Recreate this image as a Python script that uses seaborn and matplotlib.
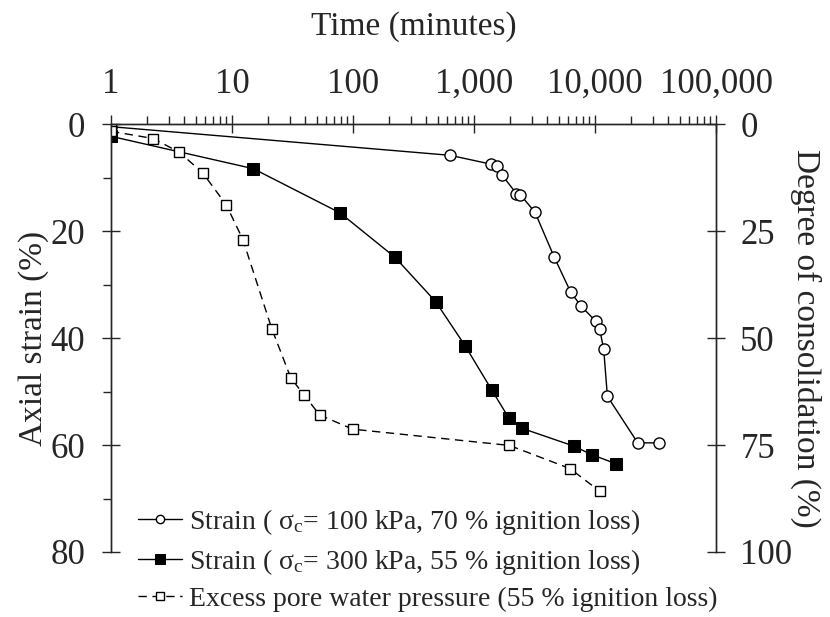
import numpy as np
import pandas as pd
import matplotlib
matplotlib.use("Agg")
import matplotlib.pyplot as plt
import matplotlib.ticker as mticker
import seaborn as sns

# values
t_100 = [1, 633, 1380, 1560, 1714, 2237, 2414, 3193, 4585, 6290, 7710, 10190, 10940, 11800, 12660, 22550, 33900]
strain_100 = [0.5, 5.85, 7.5, 7.9, 9.6, 13.0, 13.2, 16.5, 24.8, 31.4, 34.1, 36.9, 38.4, 42.1, 50.9, 59.6, 59.6]

t_300 = [1, 15, 78, 222, 482, 847, 1409, 1935, 2507, 6670, 9390, 14920]
strain_300 = [2.3, 8.35, 16.6, 24.9, 33.2, 41.5, 49.8, 54.9, 56.9, 60.2, 61.8, 63.5]

t_pore = [1, 2.24, 3.67, 5.72, 8.97, 12.3, 21.3, 30.6, 39.6, 53.1, 99.5, 1960, 6210, 10930]
consol_pore = [1.7, 3.4, 6.6, 11.4, 18.9, 27.0, 47.8, 59.3, 63.4, 68.0, 71.3, 75.1, 80.5, 85.8]

labels = ["Strain ( σ$_\\mathrm{c}$= 100 kPa, 70 % ignition loss)",
          "Strain ( σ$_\\mathrm{c}$= 300 kPa, 55 % ignition loss)",
          "Excess pore water pressure (55 % ignition loss)"]

sns.set_style("ticks")
plt.rcParams['font.family'] = ['Liberation Serif', 'DejaVu Serif']
plt.rcParams['mathtext.fontset'] = 'custom'
plt.rcParams['mathtext.rm'] = 'Liberation Serif'
plt.rcParams['mathtext.it'] = 'Liberation Serif:italic'

fig = plt.figure(figsize=(8.3, 6.17), dpi=100)
ax = fig.add_axes([111 / 830, 1 - 552 / 617, (716 - 111) / 830, (552 - 124) / 617])
ax2 = ax.twinx()

d1 = pd.DataFrame({'t': t_100, 'v': strain_100})
d2 = pd.DataFrame({'t': t_300, 'v': strain_300})
d3 = pd.DataFrame({'t': t_pore, 'v': consol_pore})

sns.lineplot(data=d1, x='t', y='v', ax=ax, sort=False, color='black', lw=1,
             marker='o', markersize=8, markerfacecolor='white', markeredgecolor='black',
             markeredgewidth=1, label=labels[0], legend=False)
sns.lineplot(data=d2, x='t', y='v', ax=ax, sort=False, color='black', lw=1,
             marker='s', markersize=9, markerfacecolor='black', markeredgecolor='black',
             label=labels[1], legend=False)
sns.lineplot(data=d3, x='t', y='v', ax=ax2, sort=False, color='black', lw=1,
             marker='s', markersize=7.5, markerfacecolor='white', markeredgecolor='black',
             markeredgewidth=1, dashes=False, label=labels[2], legend=False)
ax2.lines[0].set_linestyle((0, (6, 4)))

ax.set_xscale('log')
ax.set_xlim(1, 1e5)
ax.set_ylim(80, 0)
ax2.set_ylim(100, 0)

ax.xaxis.tick_top()
ax.xaxis.set_label_position('top')
ax.xaxis.set_major_locator(mticker.LogLocator(base=10, numticks=10))
ax.xaxis.set_minor_locator(mticker.LogLocator(base=10, subs=np.arange(2, 10), numticks=10))
ax.xaxis.set_major_formatter(mticker.FuncFormatter(lambda v, p: f"{v:,.0f}"))
ax.xaxis.set_minor_formatter(mticker.NullFormatter())

ax.set_yticks([0, 20, 40, 60, 80])
ax.set_yticks([10, 30, 50, 70], minor=True)
ax2.set_yticks([0, 25, 50, 75, 100])
ax2.yaxis.set_minor_locator(mticker.NullLocator())

ax.spines['bottom'].set_visible(False)
ax2.spines['bottom'].set_visible(False)
for sp in list(ax.spines.values()) + list(ax2.spines.values()):
    sp.set_linewidth(1)

ax.tick_params(axis='x', which='major', direction='inout', length=13, width=1, labelsize=25, pad=10)
ax.tick_params(axis='x', which='minor', direction='out', length=6, width=1)
ax.tick_params(axis='y', which='major', direction='inout', length=13, width=1, labelsize=25, pad=12)
ax.tick_params(axis='y', which='minor', direction='out', length=6, width=1)
ax2.tick_params(axis='y', which='major', direction='inout', length=13, width=1, labelsize=25, pad=11)

ax.set_xlabel('Time (minutes)', fontsize=24, labelpad=24)
ax.set_ylabel('Axial strain (%)', fontsize=24, labelpad=1)
ax2.set_ylabel('Degree of consolidation (%)', fontsize=24, rotation=270, labelpad=21)

handles = ax.lines[:2] + ax2.lines[:1]
fig.legend(handles, labels, loc='upper left', bbox_to_anchor=(138 / 830, 1 - 507 / 617),
           frameon=False, fontsize=20, handlelength=1.6, handletextpad=0.25,
           labelspacing=0.35, borderpad=0, borderaxespad=0, markerscale=0.75)

fig.savefig('out.png', dpi=100)
